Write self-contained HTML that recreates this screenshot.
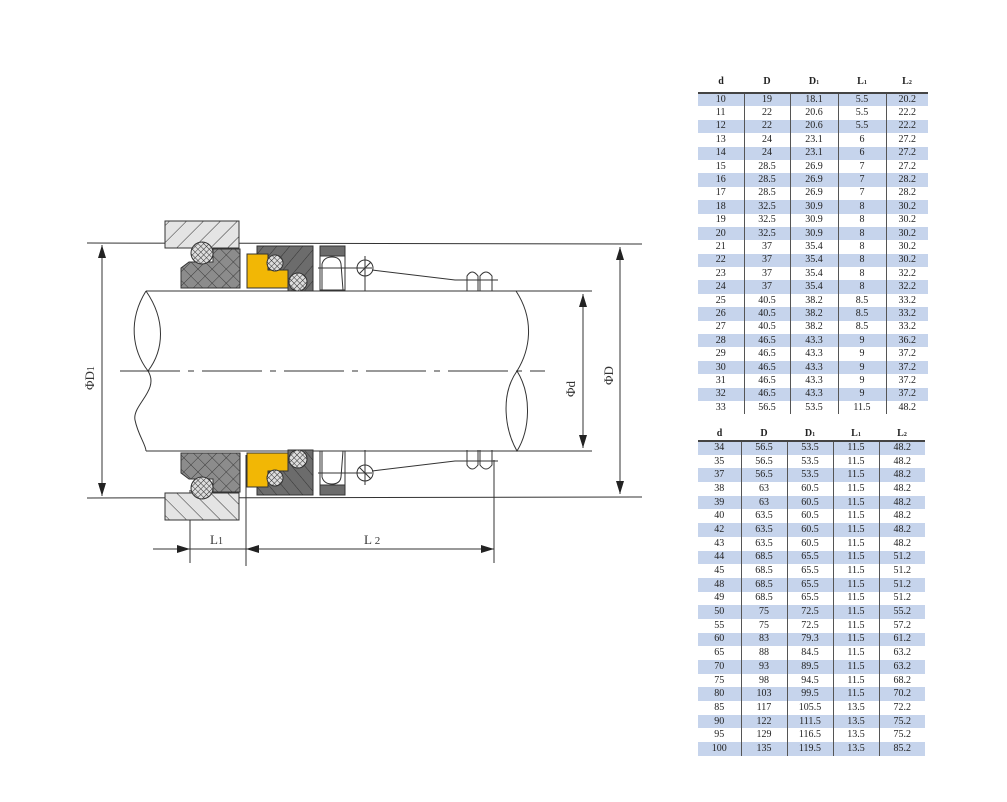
<!DOCTYPE html>
<html><head><meta charset="utf-8">
<style>
body{margin:0;background:#fff;width:1007px;height:802px;overflow:hidden;position:relative;font-family:"Liberation Serif",serif;}
table{position:absolute;border-collapse:collapse;table-layout:fixed;font-size:10px;color:#222;}
td{text-align:center;padding:0;border-left:1px solid #555;line-height:1;}
td:first-child{border-left:none;}
tr.h td{border-left:none;font-weight:bold;border-bottom:2px solid #444;vertical-align:middle;}
tr.b td{background:#c6d4ec;}
#t1 tr:not(.h){height:13.4px}
#t2 tr:not(.h){height:13.7px}
svg{position:absolute;left:0;top:0}
</style></head><body>
<svg width="1007" height="802" viewBox="0 0 1007 802">
<defs>
<pattern id="hl" width="12" height="12" patternUnits="userSpaceOnUse" patternTransform="rotate(45)"><rect width="12" height="12" fill="#e4e4e4"/><line x1="0" y1="0" x2="0" y2="12" stroke="#333" stroke-width="1"/></pattern>
<pattern id="xh" width="10" height="10" patternUnits="userSpaceOnUse" patternTransform="rotate(45)"><rect width="10" height="10" fill="#8c8c8c"/><line x1="0" y1="0" x2="0" y2="10" stroke="#333" stroke-width="0.9"/><line x1="0" y1="0" x2="10" y2="0" stroke="#333" stroke-width="0.9"/></pattern>
<pattern id="dh" width="10" height="10" patternUnits="userSpaceOnUse" patternTransform="rotate(40)"><rect width="10" height="10" fill="#6c6c6c"/><line x1="0" y1="0" x2="0" y2="10" stroke="#333" stroke-width="1"/></pattern>
<pattern id="oh" width="4" height="4" patternUnits="userSpaceOnUse" patternTransform="rotate(45)"><rect width="4" height="4" fill="#ddd"/><line x1="0" y1="0" x2="0" y2="4" stroke="#333" stroke-width="1"/><line x1="0" y1="0" x2="4" y2="0" stroke="#333" stroke-width="1"/></pattern>
<marker id="a" markerWidth="13" markerHeight="8" refX="13" refY="4" orient="auto-start-reverse" markerUnits="userSpaceOnUse"><path d="M0,0 L13,4 L0,8z" fill="#222"/></marker>
<g id="seal">
<rect x="165" y="221" width="74" height="27" fill="url(#hl)" stroke="#333"/>
<polygon points="181,268 189,262 213,262 213,249 240,249 240,288 181,288" fill="url(#xh)" stroke="#333"/>
<circle cx="202" cy="253" r="11" fill="url(#oh)" stroke="#333"/>
<polygon points="257,246 313,246 313,291 288,291 288,270 268,270 268,254 257,254" fill="url(#dh)" stroke="#333"/>
<polygon points="247,254 268,254 268,270 288,270 288,288 247,288" fill="#f2b705" stroke="#333"/>
<circle cx="275" cy="263" r="8" fill="url(#oh)" stroke="#333"/>
<circle cx="298" cy="282" r="9" fill="url(#oh)" stroke="#333"/>
<rect x="320" y="246" width="25" height="44" fill="#fff" stroke="#333"/>
<rect x="320" y="246" width="25" height="10" fill="#6c6c6c" stroke="#333"/>
<path d="M322,290 L322,264 Q324,257 332,257 Q340,257 341,264 L343,290" fill="none" stroke="#333"/>
<line x1="318" y1="268" x2="372" y2="268" stroke="#333"/>
<circle cx="365" cy="268" r="8" fill="none" stroke="#333"/>
<line x1="365" y1="256" x2="365" y2="291" stroke="#333"/>
<line x1="359" y1="274" x2="371" y2="262" stroke="#333"/>
<path d="M372,270 L455,280 L498,280" fill="none" stroke="#333"/>
<path d="M467,291 L467,276 Q472,268 478,276 L478,291 M480,291 L480,276 Q486,268 492,276 L492,291" fill="none" stroke="#333"/>
</g>
</defs>
<g stroke="#333" fill="none" stroke-width="1">
<line x1="87" y1="243" x2="642" y2="244"/>
<line x1="87" y1="498" x2="642" y2="497"/>
<line x1="146" y1="291" x2="592" y2="291"/>
<line x1="146" y1="451" x2="592" y2="451"/>
<line x1="120" y1="371" x2="545" y2="371" stroke-dasharray="60,8,6,8"/>
<path d="M146,291 C128,320 132,350 148,371 C164,350 166,320 146,291"/>
<path d="M148,371 C160,390 132,405 135,420 C138,435 146,445 146,451"/>
<path d="M516,291 C535,320 530,350 517,371 C500,395 505,430 517,451 C530,430 532,395 517,371"/>
<line x1="102" y1="245" x2="102" y2="496" marker-start="url(#a)" marker-end="url(#a)"/>
<line x1="583" y1="294" x2="583" y2="448" marker-start="url(#a)" marker-end="url(#a)"/>
<line x1="620" y1="247" x2="620" y2="494" marker-start="url(#a)" marker-end="url(#a)"/>
<line x1="190" y1="490" x2="190" y2="563"/>
<line x1="246" y1="455" x2="246" y2="566"/>
<line x1="494" y1="460" x2="494" y2="563"/>
<line x1="153" y1="549" x2="190" y2="549" marker-end="url(#a)"/>
<line x1="190" y1="549" x2="246" y2="549"/>
<line x1="246" y1="549" x2="494" y2="549" marker-start="url(#a)" marker-end="url(#a)"/>
</g>
<use href="#seal"/>
<use href="#seal" transform="translate(0,741) scale(1,-1)"/>
<g font-family="Liberation Serif,serif" font-size="13" fill="#333">
<text x="0" y="0" transform="translate(94,390) rotate(-90)">ΦD<tspan font-size="10">1</tspan></text>
<text x="0" y="0" transform="translate(575,397) rotate(-90)">Φd</text>
<text x="0" y="0" transform="translate(613,385) rotate(-90)">ΦD</text>
<text x="210" y="544">L<tspan font-size="10">1</tspan></text>
<text x="364" y="544">L <tspan font-size="11">2</tspan></text>
</g>
</svg>

<table id="t1" style="left:698px;top:72px;width:230px">
<colgroup><col style="width:46px"><col style="width:46px"><col style="width:48px"><col style="width:48px"><col style="width:42px"></colgroup>
<tr class="h" style="height:21px"><td>d</td><td>D</td><td>D<span style="font-size:6px">1</span></td><td>L<span style="font-size:6px">1</span></td><td>L<span style="font-size:6px">2</span></td></tr>
<tr class="b"><td>10</td><td>19</td><td>18.1</td><td>5.5</td><td>20.2</td></tr>
<tr><td>11</td><td>22</td><td>20.6</td><td>5.5</td><td>22.2</td></tr>
<tr class="b"><td>12</td><td>22</td><td>20.6</td><td>5.5</td><td>22.2</td></tr>
<tr><td>13</td><td>24</td><td>23.1</td><td>6</td><td>27.2</td></tr>
<tr class="b"><td>14</td><td>24</td><td>23.1</td><td>6</td><td>27.2</td></tr>
<tr><td>15</td><td>28.5</td><td>26.9</td><td>7</td><td>27.2</td></tr>
<tr class="b"><td>16</td><td>28.5</td><td>26.9</td><td>7</td><td>28.2</td></tr>
<tr><td>17</td><td>28.5</td><td>26.9</td><td>7</td><td>28.2</td></tr>
<tr class="b"><td>18</td><td>32.5</td><td>30.9</td><td>8</td><td>30.2</td></tr>
<tr><td>19</td><td>32.5</td><td>30.9</td><td>8</td><td>30.2</td></tr>
<tr class="b"><td>20</td><td>32.5</td><td>30.9</td><td>8</td><td>30.2</td></tr>
<tr><td>21</td><td>37</td><td>35.4</td><td>8</td><td>30.2</td></tr>
<tr class="b"><td>22</td><td>37</td><td>35.4</td><td>8</td><td>30.2</td></tr>
<tr><td>23</td><td>37</td><td>35.4</td><td>8</td><td>32.2</td></tr>
<tr class="b"><td>24</td><td>37</td><td>35.4</td><td>8</td><td>32.2</td></tr>
<tr><td>25</td><td>40.5</td><td>38.2</td><td>8.5</td><td>33.2</td></tr>
<tr class="b"><td>26</td><td>40.5</td><td>38.2</td><td>8.5</td><td>33.2</td></tr>
<tr><td>27</td><td>40.5</td><td>38.2</td><td>8.5</td><td>33.2</td></tr>
<tr class="b"><td>28</td><td>46.5</td><td>43.3</td><td>9</td><td>36.2</td></tr>
<tr><td>29</td><td>46.5</td><td>43.3</td><td>9</td><td>37.2</td></tr>
<tr class="b"><td>30</td><td>46.5</td><td>43.3</td><td>9</td><td>37.2</td></tr>
<tr><td>31</td><td>46.5</td><td>43.3</td><td>9</td><td>37.2</td></tr>
<tr class="b"><td>32</td><td>46.5</td><td>43.3</td><td>9</td><td>37.2</td></tr>
<tr><td>33</td><td>56.5</td><td>53.5</td><td>11.5</td><td>48.2</td></tr>
</table>

<table id="t2" style="left:698px;top:428px;width:227px">
<colgroup><col style="width:43px"><col style="width:46px"><col style="width:46px"><col style="width:46px"><col style="width:46px"></colgroup>
<tr class="h" style="height:13px"><td>d</td><td>D</td><td>D<span style="font-size:6px">1</span></td><td>L<span style="font-size:6px">1</span></td><td>L<span style="font-size:6px">2</span></td></tr>
<tr class="b"><td>34</td><td>56.5</td><td>53.5</td><td>11.5</td><td>48.2</td></tr>
<tr><td>35</td><td>56.5</td><td>53.5</td><td>11.5</td><td>48.2</td></tr>
<tr class="b"><td>37</td><td>56.5</td><td>53.5</td><td>11.5</td><td>48.2</td></tr>
<tr><td>38</td><td>63</td><td>60.5</td><td>11.5</td><td>48.2</td></tr>
<tr class="b"><td>39</td><td>63</td><td>60.5</td><td>11.5</td><td>48.2</td></tr>
<tr><td>40</td><td>63.5</td><td>60.5</td><td>11.5</td><td>48.2</td></tr>
<tr class="b"><td>42</td><td>63.5</td><td>60.5</td><td>11.5</td><td>48.2</td></tr>
<tr><td>43</td><td>63.5</td><td>60.5</td><td>11.5</td><td>48.2</td></tr>
<tr class="b"><td>44</td><td>68.5</td><td>65.5</td><td>11.5</td><td>51.2</td></tr>
<tr><td>45</td><td>68.5</td><td>65.5</td><td>11.5</td><td>51.2</td></tr>
<tr class="b"><td>48</td><td>68.5</td><td>65.5</td><td>11.5</td><td>51.2</td></tr>
<tr><td>49</td><td>68.5</td><td>65.5</td><td>11.5</td><td>51.2</td></tr>
<tr class="b"><td>50</td><td>75</td><td>72.5</td><td>11.5</td><td>55.2</td></tr>
<tr><td>55</td><td>75</td><td>72.5</td><td>11.5</td><td>57.2</td></tr>
<tr class="b"><td>60</td><td>83</td><td>79.3</td><td>11.5</td><td>61.2</td></tr>
<tr><td>65</td><td>88</td><td>84.5</td><td>11.5</td><td>63.2</td></tr>
<tr class="b"><td>70</td><td>93</td><td>89.5</td><td>11.5</td><td>63.2</td></tr>
<tr><td>75</td><td>98</td><td>94.5</td><td>11.5</td><td>68.2</td></tr>
<tr class="b"><td>80</td><td>103</td><td>99.5</td><td>11.5</td><td>70.2</td></tr>
<tr><td>85</td><td>117</td><td>105.5</td><td>13.5</td><td>72.2</td></tr>
<tr class="b"><td>90</td><td>122</td><td>111.5</td><td>13.5</td><td>75.2</td></tr>
<tr><td>95</td><td>129</td><td>116.5</td><td>13.5</td><td>75.2</td></tr>
<tr class="b"><td>100</td><td>135</td><td>119.5</td><td>13.5</td><td>85.2</td></tr>
</table>
</body></html>
